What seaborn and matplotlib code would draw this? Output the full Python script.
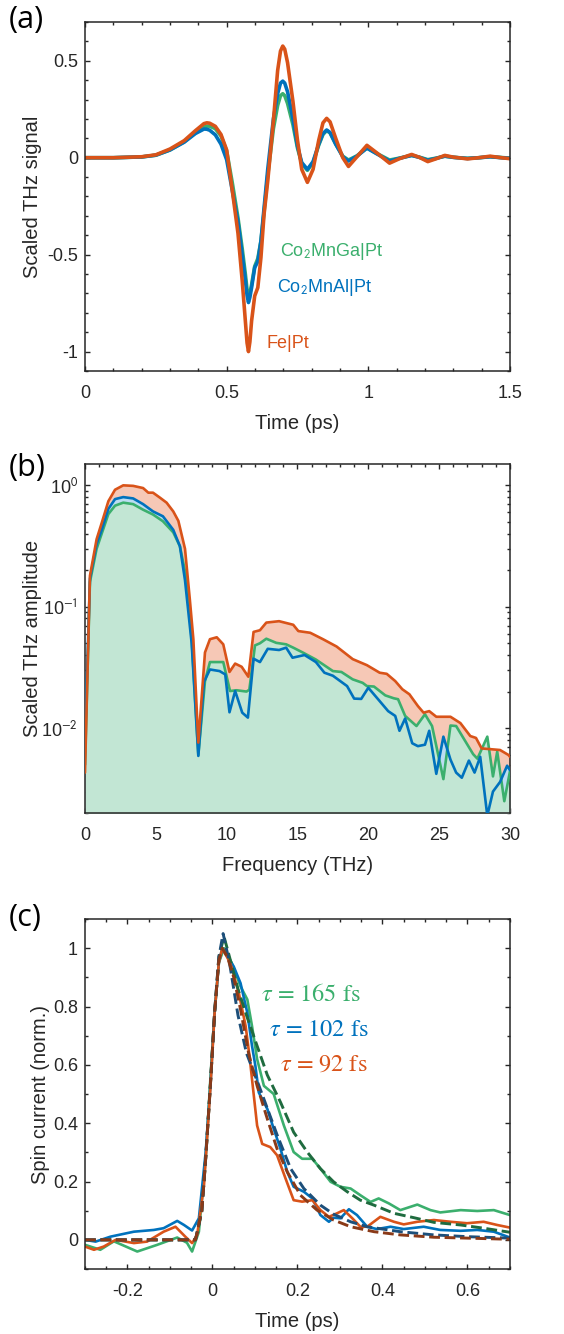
import numpy as np
import pandas as pd
import matplotlib
matplotlib.use("Agg")
import matplotlib.pyplot as plt
import seaborn as sns
from matplotlib.ticker import MultipleLocator, LogLocator, NullFormatter, FixedLocator, FixedFormatter

# ---------------- panel (a): THz waveforms ----------------
t_a = [0.00, 0.10, 0.20, 0.25, 0.30, 0.35, 0.39, 0.42, 0.43, 0.44,
       0.46, 0.48, 0.50, 0.52, 0.54, 0.555, 0.566, 0.572, 0.577, 0.582,
       0.588, 0.599, 0.61, 0.621, 0.632, 0.645, 0.665, 0.68, 0.69, 0.698,
       0.705, 0.715, 0.734, 0.75, 0.765, 0.785, 0.805, 0.825, 0.84, 0.853,
       0.865, 0.885, 0.91, 0.93, 0.96, 0.995, 1.03, 1.075, 1.11, 1.153,
       1.18, 1.21, 1.24, 1.27, 1.30, 1.35, 1.39, 1.43, 1.47, 1.50]
fe_a = [0.0, 0.0, 0.005, 0.015, 0.045, 0.088, 0.14, 0.176, 0.18, 0.178,
        0.162, 0.12, 0.04, -0.17, -0.39, -0.636, -0.842, -0.955, -1.0, -0.95,
        -0.842, -0.713, -0.67, -0.515, -0.292, -0.12, 0.19, 0.45, 0.55, 0.576,
        0.56, 0.49, 0.29, 0.09, -0.06, -0.127, -0.06, 0.09, 0.18, 0.203,
        0.185, 0.10, 0.0, -0.045, 0.005, 0.064, 0.025, -0.028, -0.005, 0.017,
        0.002, -0.02, -0.005, 0.012, 0.003, -0.006, 0.0, 0.008, 0.0, -0.005]
al_a = [0.0, 0.0, 0.004, 0.013, 0.04, 0.08, 0.125, 0.148, 0.147, 0.142,
        0.118, 0.07, -0.01, -0.17, -0.33, -0.5, -0.63, -0.71, -0.747, -0.72,
        -0.67, -0.567, -0.535, -0.43, -0.26, -0.06, 0.2, 0.33, 0.385, 0.395,
        0.385, 0.34, 0.2, 0.06, -0.025, -0.06, -0.02, 0.07, 0.125, 0.143,
        0.13, 0.07, 0.005, -0.017, 0.008, 0.05, 0.02, -0.017, -0.003, 0.012,
        0.002, -0.013, -0.003, 0.008, 0.002, -0.004, 0.0, 0.005, 0.0, -0.003]
ga_a = [0.0, 0.0, 0.004, 0.013, 0.04, 0.082, 0.13, 0.158, 0.163, 0.163,
        0.15, 0.112, 0.035, -0.13, -0.31, -0.47, -0.6, -0.68, -0.72, -0.7,
        -0.655, -0.56, -0.52, -0.43, -0.28, -0.09, 0.15, 0.27, 0.32, 0.33,
        0.32, 0.28, 0.17, 0.05, -0.03, -0.065, -0.025, 0.065, 0.12, 0.14,
        0.128, 0.07, 0.008, -0.012, 0.01, 0.05, 0.022, -0.012, -0.002, 0.012,
        0.003, -0.01, -0.002, 0.008, 0.002, -0.003, 0.0, 0.005, 0.001, -0.002]

# ---------------- panel (b): spectra ----------------
f_fe_b = [0.0, 0.35, 0.82, 1.18, 1.65, 2.12, 2.7, 3.4, 4.1, 4.47,
          4.8, 5.3, 5.76, 6.23, 6.59, 7.06, 7.4, 7.65, 8.0, 8.47,
          8.82, 9.3, 9.76, 10.2, 10.6, 11.06, 11.53, 11.9, 12.35, 12.8,
          13.7, 14.7, 15.06, 15.9, 16.8, 17.76, 18.9, 19.9, 20.8, 21.3,
          21.9, 22.4, 22.9, 23.5, 23.9, 24.3, 24.8, 25.8, 26.5, 27.2,
          27.6, 28.0, 29.3, 29.9, 30.0]
amp_fe_b = [0.0043, 0.18, 0.36, 0.49, 0.74, 0.92, 1.0, 0.99, 0.95, 0.87,
            0.87, 0.79, 0.72, 0.61, 0.51, 0.30, 0.115, 0.054, 0.0076, 0.042,
            0.054, 0.056, 0.049, 0.029, 0.034, 0.032, 0.0265, 0.062, 0.064, 0.074,
            0.076, 0.071, 0.063, 0.061, 0.054, 0.047, 0.037, 0.033, 0.0286, 0.028,
            0.0244, 0.0209, 0.019, 0.0152, 0.0134, 0.0138, 0.0124, 0.0124, 0.011, 0.0086,
            0.0083, 0.0068, 0.0066, 0.006, 0.0058]
f_ga_b = [0.0, 0.35, 0.82, 1.18, 1.65, 2.12, 2.7, 3.4, 4.1, 4.8,
          5.5, 6.23, 6.7, 7.18, 7.53, 8.0, 8.47, 8.82, 9.76, 10.24,
          10.7, 11.4, 11.6, 12.0, 12.35, 12.8, 13.5, 14.2, 14.7, 15.4,
          16.3, 17.5, 18.1, 18.9, 19.6, 19.9, 20.4, 21.2, 21.8, 22.1,
          22.6, 23.4, 24.0, 24.5, 25.3, 25.8, 26.2, 27.4, 27.7, 28.4,
          28.8, 29.1, 29.6, 30.0]
amp_ga_b = [0.005, 0.16, 0.3, 0.4, 0.58, 0.68, 0.72, 0.70, 0.63, 0.575,
            0.506, 0.41, 0.315, 0.167, 0.054, 0.006, 0.0244, 0.035, 0.035, 0.0202,
            0.0205, 0.020, 0.0207, 0.048, 0.05, 0.0545, 0.0504, 0.049, 0.046, 0.0418,
            0.0367, 0.0295, 0.029, 0.0252, 0.0236, 0.0222, 0.022, 0.0186, 0.0176, 0.0173,
            0.0126, 0.0104, 0.013, 0.0104, 0.0038, 0.0105, 0.0104, 0.0061, 0.0056, 0.0085,
            0.004, 0.0064, 0.0025, 0.0044]
f_al_b = [0.0, 0.35, 0.82, 1.18, 1.65, 2.12, 2.7, 3.4, 4.1, 4.8,
          5.5, 6.23, 6.7, 7.06, 7.53, 8.0, 8.4, 8.82, 9.5, 9.9,
          10.2, 10.6, 11.1, 11.5, 11.9, 12.35, 12.9, 13.7, 14.2, 14.65,
          15.5, 16.3, 16.9, 17.5, 18.5, 19.0, 19.5, 20.0, 20.8, 21.4,
          21.9, 22.2, 22.6, 23.1, 23.5, 24.0, 24.3, 24.8, 25.3, 25.8,
          26.2, 26.6, 27.1, 27.5, 27.9, 28.4, 28.8, 29.3, 29.8, 30.0]
amp_al_b = [0.0078, 0.17, 0.33, 0.43, 0.64, 0.77, 0.80, 0.78, 0.70, 0.61,
            0.556, 0.43, 0.315, 0.165, 0.05, 0.0059, 0.024, 0.0304, 0.0295, 0.0277,
            0.0135, 0.0202, 0.0134, 0.0122, 0.0373, 0.035, 0.045, 0.044, 0.046, 0.038,
            0.040, 0.035, 0.0286, 0.027, 0.0222, 0.0175, 0.0174, 0.0215, 0.0167, 0.0138,
            0.0126, 0.0095, 0.012, 0.0075, 0.0071, 0.0073, 0.0095, 0.0042, 0.0085, 0.0055,
            0.0043, 0.0039, 0.0054, 0.0043, 0.0058, 0.0019, 0.003, 0.0036, 0.0049, 0.0045]

# ---------------- panel (c): spin currents and fits ----------------
t_ga_c = [-0.30, -0.264, -0.232, -0.177, -0.13, -0.083, -0.06, -0.048, -0.032, -0.016,
          -0.005, 0.005, 0.015, 0.027, 0.045, 0.066, 0.082, 0.093, 0.105, 0.121,
          0.144, 0.168, 0.191, 0.211, 0.235, 0.254, 0.278, 0.301, 0.325, 0.348,
          0.372, 0.391, 0.415, 0.442, 0.482, 0.513, 0.536, 0.584, 0.623, 0.662, 0.70]
j_ga_c = [-0.017, -0.034, -0.005, -0.04, -0.017, 0.008, -0.01, -0.04, 0.028, 0.278,
          0.551, 0.78, 0.95, 1.0, 0.95, 0.869, 0.824, 0.733, 0.62, 0.528,
          0.5, 0.392, 0.301, 0.278, 0.278, 0.244, 0.199, 0.182, 0.176, 0.153,
          0.13, 0.142, 0.125, 0.102, 0.121, 0.102, 0.094, 0.102, 0.099, 0.102, 0.085]
t_al_c = [-0.30, -0.275, -0.24, -0.185, -0.138, -0.115, -0.083, -0.067, -0.048, -0.032,
          -0.016, -0.005, 0.005, 0.015, 0.023, 0.05, 0.066, 0.082, 0.093, 0.101,
          0.109, 0.129, 0.144, 0.16, 0.176, 0.191, 0.215, 0.235, 0.254, 0.274,
          0.285, 0.301, 0.321, 0.34, 0.364, 0.387, 0.419, 0.45, 0.497, 0.536,
          0.584, 0.623, 0.662, 0.70]
j_al_c = [0.0, -0.006, 0.011, 0.028, 0.034, 0.04, 0.065, 0.051, 0.032, 0.074,
          0.301, 0.528, 0.78, 0.95, 1.0, 0.937, 0.88, 0.778, 0.665, 0.596,
          0.505, 0.449, 0.381, 0.312, 0.233, 0.182, 0.165, 0.142, 0.085, 0.062,
          0.076, 0.074, 0.105, 0.085, 0.045, 0.037, 0.045, 0.037, 0.045, 0.034,
          0.031, 0.034, 0.028, 0.008]
t_fe_c = [-0.30, -0.279, -0.256, -0.228, -0.185, -0.154, -0.115, -0.087, -0.064, -0.048,
          -0.036, -0.02, -0.005, 0.005, 0.015, 0.023, 0.042, 0.062, 0.078, 0.088,
          0.093, 0.105, 0.117, 0.136, 0.152, 0.172, 0.191, 0.211, 0.235, 0.254,
          0.274, 0.293, 0.309, 0.329, 0.348, 0.364, 0.395, 0.427, 0.45, 0.482,
          0.521, 0.56, 0.599, 0.638, 0.67, 0.70]
j_fe_c = [-0.023, -0.034, -0.023, 0.0, -0.011, -0.006, 0.028, 0.045, 0.011, -0.011,
          0.017, 0.187, 0.517, 0.78, 0.95, 1.0, 0.948, 0.846, 0.733, 0.619,
          0.551, 0.392, 0.329, 0.318, 0.29, 0.21, 0.136, 0.131, 0.136, 0.102,
          0.079, 0.091, 0.102, 0.074, 0.045, 0.045, 0.079, 0.062, 0.053, 0.062,
          0.068, 0.062, 0.057, 0.062, 0.051, 0.042]
t_ga_fit = [-0.30, -0.04, -0.025, -0.016, -0.005, 0.005, 0.015, 0.027, 0.04, 0.06,
            0.08, 0.105, 0.129, 0.16, 0.191, 0.223, 0.254, 0.285, 0.317, 0.348,
            0.38, 0.427, 0.474, 0.521, 0.584, 0.638, 0.70]
j_ga_fit = [0.0, 0.0, 0.1, 0.28, 0.53, 0.78, 0.97, 1.04, 0.97, 0.86,
            0.77, 0.665, 0.565, 0.472, 0.369, 0.301, 0.244, 0.199, 0.165, 0.136,
            0.119, 0.091, 0.076, 0.06, 0.051, 0.04, 0.026]
t_al_fit = [-0.30, -0.04, -0.025, -0.016, -0.005, 0.005, 0.015, 0.025, 0.04, 0.06,
            0.08, 0.109, 0.152, 0.184, 0.215, 0.254, 0.285, 0.325, 0.364, 0.442,
            0.521, 0.599, 0.70]
j_al_fit = [0.0, 0.0, 0.1, 0.28, 0.53, 0.78, 0.97, 1.05, 0.95, 0.77,
            0.64, 0.53, 0.36, 0.244, 0.176, 0.119, 0.088, 0.062, 0.045, 0.028,
            0.017, 0.011, 0.006]
t_fe_fit = [-0.30, -0.04, -0.025, -0.016, -0.005, 0.005, 0.015, 0.023, 0.035, 0.05,
            0.066, 0.085, 0.105, 0.129, 0.152, 0.176, 0.207, 0.246, 0.285, 0.325,
            0.38, 0.442, 0.521, 0.599, 0.70]
j_fe_fit = [0.0, 0.0, 0.1, 0.28, 0.53, 0.78, 0.96, 1.0, 0.97, 0.9,
            0.79, 0.64, 0.528, 0.415, 0.312, 0.233, 0.153, 0.102, 0.068, 0.045,
            0.028, 0.017, 0.009, 0.006, 0.002]

# colours (MATLAB-like)
GREEN = "#3BAF6D"
BLUE = "#0072BD"
ORANGE = "#D95319"
GREEN_FILL = "#C2E6D4"
BLUE_FILL = "#BCDDF2"
ORANGE_FILL = "#F6C8B6"
GREEN_DARK = "#1F6B3F"
BLUE_DARK = "#1D4F7A"
ORANGE_DARK = "#8A3A18"
INK = "#262626"

sns.set_theme(style="ticks")
plt.rcParams["font.family"] = ["Liberation Sans", "DejaVu Sans"]
plt.rcParams["mathtext.fontset"] = "stix"

TICK_FS = 13
LABEL_FS = 14.5


def style_axes(ax):
    ax.tick_params(which="both", direction="in", top=True, right=True,
                   colors=INK, labelsize=TICK_FS, width=1.0)
    ax.tick_params(axis="x", which="both", pad=10)
    ax.tick_params(axis="y", which="both", pad=5)
    ax.tick_params(which="major", length=3.5)
    ax.tick_params(which="minor", length=2.0)
    for sp in ax.spines.values():
        sp.set_linewidth(1.1)
        sp.set_color(INK)


def set_ticks(ax, axis, values, labels):
    target = ax.xaxis if axis == "x" else ax.yaxis
    target.set_major_locator(FixedLocator(values))
    target.set_major_formatter(FixedFormatter(labels))


fig = plt.figure(figsize=(5.64, 13.34), dpi=100)
ax_a = fig.add_axes([0.1507, 0.7219, 0.7535, 0.2616])
ax_b = fig.add_axes([0.1507, 0.3906, 0.7535, 0.2616])
ax_c = fig.add_axes([0.1507, 0.0487, 0.7535, 0.2624])

# ======================= (a) =======================
df_a = pd.DataFrame({"t": t_a, "ga": ga_a, "al": al_a, "fe": fe_a})
sns.lineplot(data=df_a, x="t", y="ga", ax=ax_a, color=GREEN, lw=2.6)
sns.lineplot(data=df_a, x="t", y="al", ax=ax_a, color=BLUE, lw=2.6)
sns.lineplot(data=df_a, x="t", y="fe", ax=ax_a, color=ORANGE, lw=2.6)
ax_a.set_xlim(0, 1.5)
ax_a.set_ylim(-1.1, 0.7)
set_ticks(ax_a, "x", [0, 0.5, 1, 1.5], ["0", "0.5", "1", "1.5"])
set_ticks(ax_a, "y", [-1, -0.5, 0, 0.5], ["-1", "-0.5", "0", "0.5"])
ax_a.xaxis.set_minor_locator(MultipleLocator(0.1))
ax_a.yaxis.set_minor_locator(MultipleLocator(0.1))
ax_a.set_xlabel("Time (ps)", fontsize=LABEL_FS, color=INK)
ax_a.set_ylabel("Scaled THz signal", fontsize=LABEL_FS, color=INK)
ax_a.text(0.688, -0.508, r"Co$_\mathsf{2}$MnGa|Pt", color=GREEN, fontsize=13, va="baseline")
ax_a.text(0.678, -0.693, r"Co$_\mathsf{2}$MnAl|Pt", color=BLUE, fontsize=13, va="baseline")
ax_a.text(0.642, -0.979, "Fe|Pt", color=ORANGE, fontsize=13, va="baseline")
style_axes(ax_a)

# ======================= (b) =======================
ax_b.set_yscale("log")
ax_b.fill_between(f_fe_b, amp_fe_b, 1e-4, color=ORANGE_FILL, lw=0, zorder=1)
ax_b.fill_between(f_al_b, amp_al_b, 1e-4, color=BLUE_FILL, lw=0, zorder=1.2)
ax_b.fill_between(f_ga_b, amp_ga_b, 1e-4, color=GREEN_FILL, lw=0, zorder=1.4)
sns.lineplot(x=f_ga_b, y=amp_ga_b, ax=ax_b, color=GREEN, lw=1.9, zorder=3)
sns.lineplot(x=f_al_b, y=amp_al_b, ax=ax_b, color=BLUE, lw=1.9, zorder=3.2)
sns.lineplot(x=f_fe_b, y=amp_fe_b, ax=ax_b, color=ORANGE, lw=1.9, zorder=3.4)
ax_b.set_xlim(0, 30)
ax_b.set_ylim(2e-3, 1.5)
set_ticks(ax_b, "x", [0, 5, 10, 15, 20, 25, 30], ["0", "5", "10", "15", "20", "25", "30"])
set_ticks(ax_b, "y", [1e-2, 1e-1, 1],
          [r"10$^{\mathsf{-2}}$", r"10$^{\mathsf{-1}}$", r"10$^{\mathsf{0}}$"])
ax_b.xaxis.set_minor_locator(MultipleLocator(1))
ax_b.yaxis.set_minor_locator(LogLocator(base=10, subs=np.arange(2, 10)))
ax_b.yaxis.set_minor_formatter(NullFormatter())
ax_b.set_xlabel("Frequency (THz)", fontsize=LABEL_FS, color=INK)
ax_b.set_ylabel("Scaled THz amplitude", fontsize=LABEL_FS, color=INK)
style_axes(ax_b)

# ======================= (c) =======================
sns.lineplot(x=t_ga_c, y=j_ga_c, ax=ax_c, color=GREEN, lw=1.9)
sns.lineplot(x=t_al_c, y=j_al_c, ax=ax_c, color=BLUE, lw=1.9)
sns.lineplot(x=t_fe_c, y=j_fe_c, ax=ax_c, color=ORANGE, lw=1.9)
sns.lineplot(x=t_ga_fit, y=j_ga_fit, ax=ax_c, color=GREEN_DARK, lw=2.1, linestyle="--")
sns.lineplot(x=t_al_fit, y=j_al_fit, ax=ax_c, color=BLUE_DARK, lw=2.1, linestyle="--")
sns.lineplot(x=t_fe_fit, y=j_fe_fit, ax=ax_c, color=ORANGE_DARK, lw=2.1, linestyle="--")
ax_c.set_xlim(-0.3, 0.7)
ax_c.set_ylim(-0.1, 1.1)
set_ticks(ax_c, "x", [-0.2, 0, 0.2, 0.4, 0.6], ["-0.2", "0", "0.2", "0.4", "0.6"])
set_ticks(ax_c, "y", [0, 0.2, 0.4, 0.6, 0.8, 1], ["0", "0.2", "0.4", "0.6", "0.8", "1"])
ax_c.xaxis.set_minor_locator(MultipleLocator(0.05))
ax_c.yaxis.set_minor_locator(MultipleLocator(0.1))
ax_c.set_xlabel("Time (ps)", fontsize=LABEL_FS, color=INK)
ax_c.set_ylabel("Spin current (norm.)", fontsize=LABEL_FS, color=INK)
tau_font = dict(fontfamily="STIXGeneral", fontsize=17.5, va="baseline")
ax_c.text(0.113, 0.818, r"$\tau$ = 165 fs", color=GREEN, **tau_font)
ax_c.text(0.132, 0.699, r"$\tau$ = 102 fs", color=BLUE, **tau_font)
ax_c.text(0.160, 0.579, r"$\tau$ = 92 fs", color=ORANGE, **tau_font)
style_axes(ax_c)

for ax, ylx in ((ax_a, -0.10), (ax_b, -0.10), (ax_c, -0.082)):
    ax.yaxis.set_label_coords(ylx, 0.5)
    ax.xaxis.set_label_coords(0.5, -0.123)

# panel letters
for y, lab in ((0.9963, "(a)"), (0.6604, "(b)"), (0.3231, "(c)")):
    fig.text(0.016, y, lab, fontsize=22, va="top", ha="left",
             family=["Open Sans", "DejaVu Sans"], color="black")

fig.savefig("out.png", dpi=100)
